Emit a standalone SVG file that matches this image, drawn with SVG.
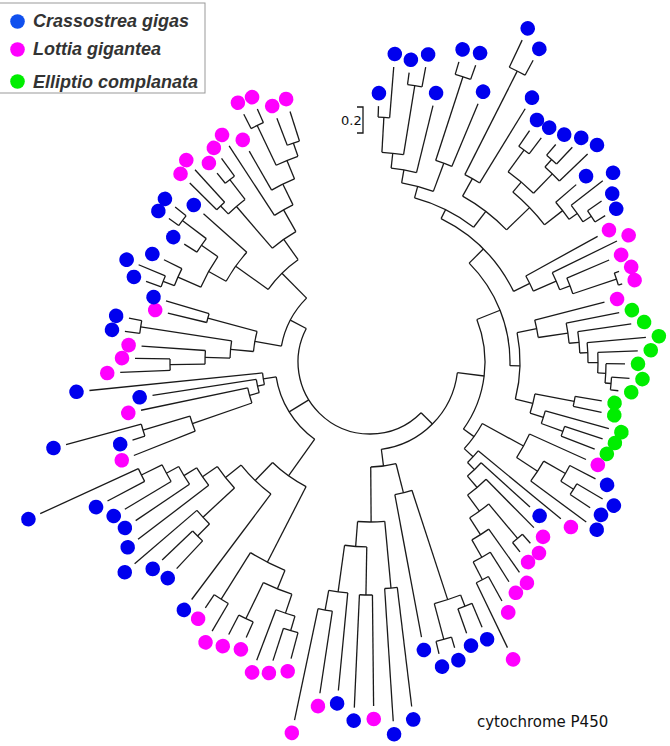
<svg xmlns="http://www.w3.org/2000/svg" width="670" height="746" viewBox="0 0 670 746">
<style>
.c path,.c circle{fill:none;stroke:#1a1a1a;stroke-width:1.3}
.b{fill:#0000ee}.m{fill:#ff00ff}.g{fill:#00ee00}
.t{font-family:"Liberation Sans",Arial,sans-serif;font-weight:bold;font-style:italic;font-size:18px;fill:#333}
.s{font-family:"DejaVu Sans","Liberation Sans",sans-serif;fill:#111}
</style>
<rect width="670" height="746" fill="#fff"/>
<g id="connectors" class="c" transform="translate(370 362)">
<circle r="72" pathLength="360" stroke-dasharray="162.9 999" transform="rotate(44.8)"/>
<path d="M72 0H88" transform="rotate(44.8)"/><circle r="88" pathLength="360" stroke-dasharray="75.6 999" transform="rotate(7)"/>
<path d="M88 0H115" transform="rotate(7)"/><circle r="115" pathLength="360" stroke-dasharray="57.35 999" transform="rotate(-21.7)"/>
<path d="M115 0H140" transform="rotate(-21.7)"/><circle r="140" pathLength="360" stroke-dasharray="46.41 999" transform="rotate(-44.91)"/>
<path d="M140 0H160" transform="rotate(-44.91)"/><circle r="160" pathLength="360" stroke-dasharray="37.44 999" transform="rotate(-63.63)"/>
<path d="M160 0H170" transform="rotate(-63.63)"/><circle r="170" pathLength="360" stroke-dasharray="22.37 999" transform="rotate(-74.81)"/>
<path d="M170 0H182" transform="rotate(-74.81)"/><circle r="182" pathLength="360" stroke-dasharray="10.36 999" transform="rotate(-79.99)"/>
<path d="M182 0H195" transform="rotate(-79.99)"/><circle r="195" pathLength="360" stroke-dasharray="7.58 999" transform="rotate(-83.78)"/>
<path d="M195 0H210" transform="rotate(-83.78)"/><circle r="210" pathLength="360" stroke-dasharray="5.95 999" transform="rotate(-86.75)"/>
<path d="M210 0H245" transform="rotate(-86.75)"/><circle r="245" pathLength="360" stroke-dasharray="2.7 999" transform="rotate(-88.1)"/>
<path d="M210 0H280" transform="rotate(-80.8)"/><circle r="280" pathLength="360" stroke-dasharray="3 999" transform="rotate(-82.3)"/>
<path d="M182 0H212" transform="rotate(-69.63)"/><circle r="212" pathLength="360" stroke-dasharray="4.65 999" transform="rotate(-71.95)"/>
<path d="M212 0H300" transform="rotate(-71.95)"/><circle r="300" pathLength="360" stroke-dasharray="3.1 999" transform="rotate(-73.5)"/>
<path d="M170 0H190" transform="rotate(-52.44)"/><circle r="190" pathLength="360" stroke-dasharray="16.77 999" transform="rotate(-60.83)"/>
<path d="M190 0H210" transform="rotate(-60.83)"/><circle r="210" pathLength="360" stroke-dasharray="4.65 999" transform="rotate(-63.15)"/>
<path d="M210 0H326" transform="rotate(-63.15)"/><circle r="326" pathLength="360" stroke-dasharray="3.1 999" transform="rotate(-64.7)"/>
<path d="M190 0H222" transform="rotate(-44.06)"/><circle r="222" pathLength="360" stroke-dasharray="11.79 999" transform="rotate(-49.95)"/>
<path d="M222 0H235" transform="rotate(-49.95)"/><circle r="235" pathLength="360" stroke-dasharray="8.1 999" transform="rotate(-54)"/>
<path d="M235 0H262" transform="rotate(-54)"/><circle r="262" pathLength="360" stroke-dasharray="2.8 999" transform="rotate(-55.4)"/>
<path d="M235 0H262" transform="rotate(-45.9)"/><circle r="262" pathLength="360" stroke-dasharray="4.4 999" transform="rotate(-48.1)"/>
<path d="M262 0H272" transform="rotate(-48.1)"/><circle r="272" pathLength="360" stroke-dasharray="2.8 999" transform="rotate(-49.5)"/>
<path d="M222 0H245" transform="rotate(-38.16)"/><circle r="245" pathLength="360" stroke-dasharray="5.07 999" transform="rotate(-40.7)"/>
<path d="M245 0H255" transform="rotate(-35.63)"/><circle r="255" pathLength="360" stroke-dasharray="4.55 999" transform="rotate(-37.9)"/>
<path d="M255 0H265" transform="rotate(-33.35)"/><circle r="265" pathLength="360" stroke-dasharray="2.9 999" transform="rotate(-34.8)"/>
<path d="M160 0H178" transform="rotate(-26.19)"/><circle r="178" pathLength="360" stroke-dasharray="5.42 999" transform="rotate(-28.9)"/>
<path d="M178 0H203" transform="rotate(-23.48)"/><circle r="203" pathLength="360" stroke-dasharray="5.25 999" transform="rotate(-26.1)"/>
<path d="M203 0H214" transform="rotate(-20.85)"/><circle r="214" pathLength="360" stroke-dasharray="4.5 999" transform="rotate(-23.1)"/>
<path d="M214 0H260" transform="rotate(-18.6)"/><circle r="260" pathLength="360" stroke-dasharray="2.8 999" transform="rotate(-20)"/>
<path d="M140 0H150" transform="rotate(1.5)"/><circle r="150" pathLength="360" stroke-dasharray="25.59 999" transform="rotate(-11.3)"/>
<path d="M150 0H170" transform="rotate(-11.3)"/><circle r="170" pathLength="360" stroke-dasharray="6.01 999" transform="rotate(-14.3)"/>
<path d="M170 0H200" transform="rotate(-8.29)"/><circle r="200" pathLength="360" stroke-dasharray="5.82 999" transform="rotate(-11.2)"/>
<path d="M200 0H210" transform="rotate(-5.38)"/><circle r="210" pathLength="360" stroke-dasharray="5.84 999" transform="rotate(-8.3)"/>
<path d="M210 0H218" transform="rotate(-2.46)"/><circle r="218" pathLength="360" stroke-dasharray="5.275 999" transform="rotate(-5.1)"/>
<path d="M218 0H228" transform="rotate(0.175)"/><circle r="228" pathLength="360" stroke-dasharray="5.15 999" transform="rotate(-2.4)"/>
<path d="M228 0H236" transform="rotate(2.75)"/><circle r="236" pathLength="360" stroke-dasharray="4.7 999" transform="rotate(0.4)"/>
<path d="M236 0H242" transform="rotate(5.1)"/><circle r="242" pathLength="360" stroke-dasharray="3 999" transform="rotate(3.6)"/>
<path d="M150 0H168" transform="rotate(14.29)"/><circle r="168" pathLength="360" stroke-dasharray="6.78 999" transform="rotate(10.9)"/>
<path d="M168 0H208" transform="rotate(10.9)"/><circle r="208" pathLength="360" stroke-dasharray="2.8 999" transform="rotate(9.5)"/>
<path d="M168 0H182" transform="rotate(17.68)"/><circle r="182" pathLength="360" stroke-dasharray="4.15 999" transform="rotate(15.6)"/>
<path d="M182 0H205" transform="rotate(19.75)"/><circle r="205" pathLength="360" stroke-dasharray="2.9 999" transform="rotate(18.3)"/>
<path d="M115 0H128" transform="rotate(35.65)"/><circle r="128" pathLength="360" stroke-dasharray="13.9 999" transform="rotate(28.7)"/>
<path d="M128 0H175" transform="rotate(28.7)"/><circle r="175" pathLength="360" stroke-dasharray="8.8 999" transform="rotate(24.3)"/>
<path d="M175 0H200" transform="rotate(33.1)"/><circle r="200" pathLength="360" stroke-dasharray="6.8 999" transform="rotate(29.7)"/>
<path d="M200 0H225" transform="rotate(29.7)"/><circle r="225" pathLength="360" stroke-dasharray="4.6 999" transform="rotate(27.4)"/>
<path d="M225 0H240" transform="rotate(32)"/><circle r="240" pathLength="360" stroke-dasharray="3 999" transform="rotate(30.5)"/>
<path d="M128 0H140" transform="rotate(42.6)"/><circle r="140" pathLength="360" stroke-dasharray="6.45 999" transform="rotate(39.4)"/>
<path d="M140 0H150" transform="rotate(45.85)"/><circle r="150" pathLength="360" stroke-dasharray="7.3 999" transform="rotate(42.2)"/>
<path d="M150 0H165" transform="rotate(49.5)"/><circle r="165" pathLength="360" stroke-dasharray="8.45 999" transform="rotate(45.3)"/>
<path d="M165 0H185" transform="rotate(53.75)"/><circle r="185" pathLength="360" stroke-dasharray="7.3 999" transform="rotate(50.1)"/>
<path d="M185 0H230" transform="rotate(50.1)"/><circle r="230" pathLength="360" stroke-dasharray="3.2 999" transform="rotate(48.5)"/>
<path d="M185 0H205" transform="rotate(57.4)"/><circle r="205" pathLength="360" stroke-dasharray="5.6 999" transform="rotate(54.6)"/>
<path d="M205 0H225" transform="rotate(60.2)"/><circle r="225" pathLength="360" stroke-dasharray="5 999" transform="rotate(57.7)"/>
<path d="M225 0H245" transform="rotate(62.7)"/><circle r="245" pathLength="360" stroke-dasharray="3.2 999" transform="rotate(61.1)"/>
<path d="M88 0H105" transform="rotate(82.6)"/><circle r="105" pathLength="360" stroke-dasharray="13.95 999" transform="rotate(75.65)"/>
<path d="M105 0H135" transform="rotate(75.65)"/><circle r="135" pathLength="360" stroke-dasharray="7.5 999" transform="rotate(71.9)"/>
<path d="M135 0H250" transform="rotate(71.9)"/><circle r="250" pathLength="360" stroke-dasharray="6.35 999" transform="rotate(68.75)"/>
<path d="M250 0H262" transform="rotate(68.75)"/><circle r="262" pathLength="360" stroke-dasharray="3.3 999" transform="rotate(67.1)"/>
<path d="M250 0H287" transform="rotate(75.1)"/><circle r="287" pathLength="360" stroke-dasharray="3.2 999" transform="rotate(73.5)"/>
<path d="M105 0H160" transform="rotate(89.6)"/><circle r="160" pathLength="360" stroke-dasharray="9.75 999" transform="rotate(84.7)"/>
<path d="M160 0H227" transform="rotate(84.7)"/><circle r="227" pathLength="360" stroke-dasharray="3.2 999" transform="rotate(83.1)"/>
<path d="M160 0H185" transform="rotate(94.45)"/><circle r="185" pathLength="360" stroke-dasharray="6.9 999" transform="rotate(91)"/>
<path d="M185 0H233" transform="rotate(91)"/><circle r="233" pathLength="360" stroke-dasharray="3.2 999" transform="rotate(89.4)"/>
<path d="M185 0H232" transform="rotate(97.9)"/><circle r="232" pathLength="360" stroke-dasharray="4.75 999" transform="rotate(95.5)"/>
<path d="M232 0H252" transform="rotate(100.25)"/><circle r="252" pathLength="360" stroke-dasharray="3.3 999" transform="rotate(98.6)"/>
<path d="M72 0H95" transform="rotate(148.3)"/><circle r="95" pathLength="360" stroke-dasharray="45.45 999" transform="rotate(125.6)"/>
<path d="M95 0H140" transform="rotate(125.6)"/><circle r="140" pathLength="360" stroke-dasharray="16.95 999" transform="rotate(117.15)"/>
<path d="M140 0H225" transform="rotate(117.15)"/><circle r="225" pathLength="360" stroke-dasharray="9.9 999" transform="rotate(112.2)"/>
<path d="M225 0H245" transform="rotate(112.2)"/><circle r="245" pathLength="360" stroke-dasharray="7.2 999" transform="rotate(108.6)"/>
<path d="M245 0H265" transform="rotate(108.6)"/><circle r="265" pathLength="360" stroke-dasharray="4.35 999" transform="rotate(106.45)"/>
<path d="M265 0H280" transform="rotate(106.45)"/><circle r="280" pathLength="360" stroke-dasharray="3.1 999" transform="rotate(104.9)"/>
<path d="M245 0H285" transform="rotate(115.8)"/><circle r="285" pathLength="360" stroke-dasharray="3.2 999" transform="rotate(114.2)"/>
<path d="M225 0H280" transform="rotate(122.1)"/><circle r="280" pathLength="360" stroke-dasharray="3.4 999" transform="rotate(120.4)"/>
<path d="M140 0H165" transform="rotate(134.1)"/><circle r="165" pathLength="360" stroke-dasharray="14.45 999" transform="rotate(126.9)"/>
<path d="M165 0H185" transform="rotate(141.35)"/><circle r="185" pathLength="360" stroke-dasharray="8.5 999" transform="rotate(137.1)"/>
<path d="M185 0H228" transform="rotate(137.1)"/><circle r="228" pathLength="360" stroke-dasharray="4.65 999" transform="rotate(134.75)"/>
<path d="M228 0H245" transform="rotate(134.75)"/><circle r="245" pathLength="360" stroke-dasharray="3.3 999" transform="rotate(133.1)"/>
<path d="M185 0H203" transform="rotate(145.6)"/><circle r="203" pathLength="360" stroke-dasharray="6 999" transform="rotate(142.6)"/>
<path d="M203 0H218" transform="rotate(148.6)"/><circle r="218" pathLength="360" stroke-dasharray="5.45 999" transform="rotate(145.9)"/>
<path d="M218 0H232" transform="rotate(151.35)"/><circle r="232" pathLength="360" stroke-dasharray="4.7 999" transform="rotate(149)"/>
<path d="M232 0H255" transform="rotate(153.7)"/><circle r="255" pathLength="360" stroke-dasharray="3.2 999" transform="rotate(152.1)"/>
<path d="M95 0H108" transform="rotate(171.05)"/><circle r="108" pathLength="360" stroke-dasharray="6.3 999" transform="rotate(167.9)"/>
<path d="M108 0H115" transform="rotate(167.9)"/><circle r="115" pathLength="360" stroke-dasharray="6.8 999" transform="rotate(164.5)"/>
<path d="M115 0H125" transform="rotate(164.5)"/><circle r="125" pathLength="360" stroke-dasharray="7.25 999" transform="rotate(160.85)"/>
<path d="M125 0H188" transform="rotate(160.85)"/><circle r="188" pathLength="360" stroke-dasharray="4.9 999" transform="rotate(158.4)"/>
<path d="M188 0H237" transform="rotate(163.3)"/><circle r="237" pathLength="360" stroke-dasharray="3 999" transform="rotate(161.8)"/>
<path d="M72 0H90" transform="rotate(207.7)"/><circle r="90" pathLength="360" stroke-dasharray="35.05 999" transform="rotate(190.15)"/>
<path d="M90 0H117" transform="rotate(190.15)"/><circle r="117" pathLength="360" stroke-dasharray="10 999" transform="rotate(185.15)"/>
<path d="M117 0H140" transform="rotate(185.15)"/><circle r="140" pathLength="360" stroke-dasharray="7.1 999" transform="rotate(181.6)"/>
<path d="M140 0H165" transform="rotate(181.6)"/><circle r="165" pathLength="360" stroke-dasharray="4.75 999" transform="rotate(179.25)"/>
<path d="M165 0H200" transform="rotate(179.25)"/><circle r="200" pathLength="360" stroke-dasharray="3.3 999" transform="rotate(177.6)"/>
<path d="M140 0H232" transform="rotate(188.7)"/><circle r="232" pathLength="360" stroke-dasharray="3.2 999" transform="rotate(187.1)"/>
<path d="M117 0H168" transform="rotate(195.15)"/><circle r="168" pathLength="360" stroke-dasharray="3.1 999" transform="rotate(193.6)"/>
<path d="M90 0H125" transform="rotate(225.2)"/><circle r="125" pathLength="360" stroke-dasharray="19.4 999" transform="rotate(215.5)"/>
<path d="M125 0H165" transform="rotate(215.5)"/><circle r="165" pathLength="360" stroke-dasharray="12.4 999" transform="rotate(209.3)"/>
<path d="M165 0H185" transform="rotate(209.3)"/><circle r="185" pathLength="360" stroke-dasharray="10.85 999" transform="rotate(203.85)"/>
<path d="M185 0H210" transform="rotate(203.85)"/><circle r="210" pathLength="360" stroke-dasharray="5.1 999" transform="rotate(201.3)"/>
<path d="M210 0H222" transform="rotate(201.3)"/><circle r="222" pathLength="360" stroke-dasharray="3 999" transform="rotate(199.8)"/>
<path d="M185 0H205" transform="rotate(214.7)"/><circle r="205" pathLength="360" stroke-dasharray="4.6 999" transform="rotate(212.4)"/>
<path d="M205 0H235" transform="rotate(217)"/><circle r="235" pathLength="360" stroke-dasharray="3 999" transform="rotate(215.5)"/>
<path d="M125 0H150" transform="rotate(234.9)"/><circle r="150" pathLength="360" stroke-dasharray="11.05 999" transform="rotate(229.35)"/>
<path d="M150 0H205" transform="rotate(229.35)"/><circle r="205" pathLength="360" stroke-dasharray="6.2 999" transform="rotate(226.25)"/>
<path d="M205 0H216" transform="rotate(226.25)"/><circle r="216" pathLength="360" stroke-dasharray="2.9 999" transform="rotate(224.8)"/>
<path d="M205 0H230" transform="rotate(232.45)"/><circle r="230" pathLength="360" stroke-dasharray="2.9 999" transform="rotate(231)"/>
<path d="M150 0H175" transform="rotate(240.4)"/><circle r="175" pathLength="360" stroke-dasharray="7 999" transform="rotate(236.9)"/>
<path d="M175 0H198" transform="rotate(243.9)"/><circle r="198" pathLength="360" stroke-dasharray="7.4 999" transform="rotate(240.2)"/>
<path d="M198 0H218" transform="rotate(247.6)"/><circle r="218" pathLength="360" stroke-dasharray="6.2 999" transform="rotate(244.5)"/>
<path d="M218 0H262" transform="rotate(244.5)"/><circle r="262" pathLength="360" stroke-dasharray="3 999" transform="rotate(243)"/>
<path d="M218 0H232" transform="rotate(250.7)"/><circle r="232" pathLength="360" stroke-dasharray="3.2 999" transform="rotate(249.1)"/>
<path d="M245 0H256" transform="rotate(-88.1)"/>
<path d="M245 0H296" transform="rotate(-85.4)"/>
<path d="M280 0H292" transform="rotate(-82.3)"/>
<path d="M280 0H300" transform="rotate(-79.3)"/>
<path d="M195 0H264" transform="rotate(-76.2)"/>
<path d="M300 0H313" transform="rotate(-73.5)"/>
<path d="M300 0H315" transform="rotate(-70.4)"/>
<path d="M212 0H280" transform="rotate(-67.3)"/>
<path d="M326 0H356" transform="rotate(-64.7)"/>
<path d="M326 0H343" transform="rotate(-61.6)"/>
<path d="M210 0H297" transform="rotate(-58.5)"/>
<path d="M262 0H281" transform="rotate(-55.4)"/>
<path d="M262 0H282" transform="rotate(-52.6)"/>
<path d="M272 0H286" transform="rotate(-49.5)"/>
<path d="M272 0H295" transform="rotate(-46.7)"/>
<path d="M262 0H301" transform="rotate(-43.7)"/>
<path d="M245 0H272" transform="rotate(-40.7)"/>
<path d="M255 0H295" transform="rotate(-37.9)"/>
<path d="M265 0H282" transform="rotate(-34.8)"/>
<path d="M265 0H277" transform="rotate(-31.9)"/>
<path d="M178 0H260" transform="rotate(-28.9)"/>
<path d="M203 0H275" transform="rotate(-26.1)"/>
<path d="M214 0H260" transform="rotate(-23.1)"/>
<path d="M260 0H265" transform="rotate(-20)"/>
<path d="M260 0H264" transform="rotate(-17.2)"/>
<path d="M170 0H242" transform="rotate(-14.3)"/>
<path d="M200 0H254" transform="rotate(-11.2)"/>
<path d="M210 0H264" transform="rotate(-8.3)"/>
<path d="M218 0H277" transform="rotate(-5.1)"/>
<path d="M228 0H268" transform="rotate(-2.4)"/>
<path d="M236 0H255" transform="rotate(0.4)"/>
<path d="M242 0H260" transform="rotate(3.6)"/>
<path d="M242 0H250" transform="rotate(6.6)"/>
<path d="M208 0H235" transform="rotate(9.5)"/>
<path d="M208 0H237" transform="rotate(12.3)"/>
<path d="M182 0H248" transform="rotate(15.6)"/>
<path d="M205 0H245" transform="rotate(18.3)"/>
<path d="M205 0H241" transform="rotate(21.2)"/>
<path d="M175 0H237" transform="rotate(24.3)"/>
<path d="M225 0H254" transform="rotate(27.4)"/>
<path d="M240 0H270" transform="rotate(30.5)"/>
<path d="M240 0H264" transform="rotate(33.5)"/>
<path d="M200 0H269" transform="rotate(36.5)"/>
<path d="M140 0H247" transform="rotate(39.4)"/>
<path d="M150 0H216" transform="rotate(42.2)"/>
<path d="M165 0H233" transform="rotate(45.3)"/>
<path d="M230 0H242" transform="rotate(48.5)"/>
<path d="M230 0H242" transform="rotate(51.7)"/>
<path d="M205 0H258" transform="rotate(54.6)"/>
<path d="M225 0H260" transform="rotate(57.7)"/>
<path d="M245 0H273" transform="rotate(61.1)"/>
<path d="M245 0H317" transform="rotate(64.3)"/>
<path d="M262 0H288" transform="rotate(67.1)"/>
<path d="M262 0H288" transform="rotate(70.4)"/>
<path d="M287 0H298" transform="rotate(73.5)"/>
<path d="M287 0H300" transform="rotate(76.7)"/>
<path d="M135 0H280" transform="rotate(79.4)"/>
<path d="M227 0H347" transform="rotate(83.1)"/>
<path d="M227 0H360" transform="rotate(86.3)"/>
<path d="M233 0H344" transform="rotate(89.4)"/>
<path d="M233 0H346" transform="rotate(92.6)"/>
<path d="M232 0H330" transform="rotate(95.5)"/>
<path d="M252 0H335" transform="rotate(98.6)"/>
<path d="M252 0H366" transform="rotate(101.9)"/>
<path d="M280 0H307" transform="rotate(104.9)"/>
<path d="M280 0H314" transform="rotate(108)"/>
<path d="M265 0H319" transform="rotate(110.8)"/>
<path d="M285 0H302" transform="rotate(114.2)"/>
<path d="M285 0H307" transform="rotate(117.4)"/>
<path d="M280 0H312" transform="rotate(120.4)"/>
<path d="M280 0H296" transform="rotate(123.8)"/>
<path d="M165 0H297" transform="rotate(126.9)"/>
<path d="M245 0H283" transform="rotate(133.1)"/>
<path d="M245 0H287" transform="rotate(136.4)"/>
<path d="M228 0H310" transform="rotate(139.4)"/>
<path d="M203 0H292" transform="rotate(142.6)"/>
<path d="M218 0H283" transform="rotate(145.9)"/>
<path d="M232 0H286" transform="rotate(149)"/>
<path d="M255 0H297" transform="rotate(152.1)"/>
<path d="M255 0H363" transform="rotate(155.3)"/>
<path d="M188 0H254" transform="rotate(158.4)"/>
<path d="M237 0H250" transform="rotate(161.8)"/>
<path d="M237 0H315" transform="rotate(164.8)"/>
<path d="M125 0H234" transform="rotate(168.1)"/>
<path d="M115 0H220" transform="rotate(171.3)"/>
<path d="M108 0H282" transform="rotate(174.2)"/>
<path d="M200 0H250" transform="rotate(177.6)"/>
<path d="M200 0H235" transform="rotate(180.9)"/>
<path d="M165 0H229" transform="rotate(184)"/>
<path d="M232 0H247" transform="rotate(187.1)"/>
<path d="M232 0H245" transform="rotate(190.3)"/>
<path d="M168 0H208" transform="rotate(193.6)"/>
<path d="M168 0H213" transform="rotate(196.7)"/>
<path d="M222 0H238" transform="rotate(199.8)"/>
<path d="M222 0H251" transform="rotate(202.8)"/>
<path d="M210 0H230" transform="rotate(206.4)"/>
<path d="M205 0H220" transform="rotate(212.4)"/>
<path d="M235 0H247" transform="rotate(215.5)"/>
<path d="M235 0H249" transform="rotate(218.5)"/>
<path d="M165 0H223" transform="rotate(221.7)"/>
<path d="M216 0H254" transform="rotate(224.8)"/>
<path d="M216 0H260" transform="rotate(227.7)"/>
<path d="M230 0H243" transform="rotate(231)"/>
<path d="M230 0H252" transform="rotate(233.9)"/>
<path d="M175 0H258" transform="rotate(236.9)"/>
<path d="M198 0H243" transform="rotate(240.2)"/>
<path d="M262 0H278" transform="rotate(243)"/>
<path d="M262 0H277" transform="rotate(246)"/>
<path d="M232 0H261" transform="rotate(249.1)"/>
<path d="M232 0H263" transform="rotate(252.3)"/>
</g>
<g id="leaves" transform="translate(370 362)">
<g id="leaf1" transform="rotate(-88.1)"><circle class="b" cx="269" r="7.3"/></g>
<g id="leaf2" transform="rotate(-85.4)"><circle class="b" cx="309" r="7.3"/></g>
<g id="leaf3" transform="rotate(-82.3)"><circle class="b" cx="305" r="7.3"/></g>
<g id="leaf4" transform="rotate(-79.3)"><circle class="b" cx="313" r="7.3"/></g>
<g id="leaf5" transform="rotate(-76.2)"><circle class="b" cx="277" r="7.3"/></g>
<g id="leaf6" transform="rotate(-73.5)"><circle class="b" cx="326" r="7.3"/></g>
<g id="leaf7" transform="rotate(-70.4)"><circle class="b" cx="328" r="7.3"/></g>
<g id="leaf8" transform="rotate(-67.3)"><circle class="b" cx="293" r="7.3"/></g>
<g id="leaf9" transform="rotate(-64.7)"><circle class="b" cx="369" r="7.3"/></g>
<g id="leaf10" transform="rotate(-61.6)"><circle class="b" cx="356" r="7.3"/></g>
<g id="leaf11" transform="rotate(-58.5)"><circle class="b" cx="310" r="7.3"/></g>
<g id="leaf12" transform="rotate(-55.4)"><circle class="b" cx="294" r="7.3"/></g>
<g id="leaf13" transform="rotate(-52.6)"><circle class="b" cx="295" r="7.3"/></g>
<g id="leaf14" transform="rotate(-49.5)"><circle class="b" cx="299" r="7.3"/></g>
<g id="leaf15" transform="rotate(-46.7)"><circle class="b" cx="308" r="7.3"/></g>
<g id="leaf16" transform="rotate(-43.7)"><circle class="b" cx="314" r="7.3"/></g>
<g id="leaf17" transform="rotate(-40.7)"><circle class="b" cx="285" r="7.3"/></g>
<g id="leaf18" transform="rotate(-37.9)"><circle class="b" cx="308" r="7.3"/></g>
<g id="leaf19" transform="rotate(-34.8)"><circle class="b" cx="295" r="7.3"/></g>
<g id="leaf20" transform="rotate(-31.9)"><circle class="b" cx="290" r="7.3"/></g>
<g id="leaf21" transform="rotate(-28.9)"><circle class="m" cx="273" r="7.3"/></g>
<g id="leaf22" transform="rotate(-26.1)"><circle class="m" cx="288" r="7.3"/></g>
<g id="leaf23" transform="rotate(-23.1)"><circle class="m" cx="273" r="7.3"/></g>
<g id="leaf24" transform="rotate(-20)"><circle class="m" cx="278" r="7.3"/></g>
<g id="leaf25" transform="rotate(-17.2)"><circle class="m" cx="277" r="7.3"/></g>
<g id="leaf26" transform="rotate(-14.3)"><circle class="m" cx="255" r="7.3"/></g>
<g id="leaf27" transform="rotate(-11.2)"><circle class="g" cx="267" r="7.3"/></g>
<g id="leaf28" transform="rotate(-8.3)"><circle class="g" cx="277" r="7.3"/></g>
<g id="leaf29" transform="rotate(-5.1)"><circle class="g" cx="290" r="7.3"/></g>
<g id="leaf30" transform="rotate(-2.4)"><circle class="g" cx="281" r="7.3"/></g>
<g id="leaf31" transform="rotate(0.4)"><circle class="g" cx="268" r="7.3"/></g>
<g id="leaf32" transform="rotate(3.6)"><circle class="g" cx="273" r="7.3"/></g>
<g id="leaf33" transform="rotate(6.6)"><circle class="g" cx="263" r="7.3"/></g>
<g id="leaf34" transform="rotate(9.5)"><circle class="g" cx="248" r="7.3"/></g>
<g id="leaf35" transform="rotate(12.3)"><circle class="g" cx="250" r="7.3"/></g>
<g id="leaf36" transform="rotate(15.6)"><circle class="g" cx="261" r="7.3"/></g>
<g id="leaf37" transform="rotate(18.3)"><circle class="g" cx="258" r="7.3"/></g>
<g id="leaf38" transform="rotate(21.2)"><circle class="g" cx="254" r="7.3"/></g>
<g id="leaf39" transform="rotate(24.3)"><circle class="m" cx="250" r="7.3"/></g>
<g id="leaf40" transform="rotate(27.4)"><circle class="b" cx="267" r="7.3"/></g>
<g id="leaf41" transform="rotate(30.5)"><circle class="b" cx="283" r="7.3"/></g>
<g id="leaf42" transform="rotate(33.5)"><circle class="b" cx="277" r="7.3"/></g>
<g id="leaf43" transform="rotate(36.5)"><circle class="b" cx="282" r="7.3"/></g>
<g id="leaf44" transform="rotate(39.4)"><circle class="m" cx="260" r="7.3"/></g>
<g id="leaf45" transform="rotate(42.2)"><circle class="b" cx="229" r="7.3"/></g>
<g id="leaf46" transform="rotate(45.3)"><circle class="m" cx="246" r="7.3"/></g>
<g id="leaf47" transform="rotate(48.5)"><circle class="m" cx="255" r="7.3"/></g>
<g id="leaf48" transform="rotate(51.7)"><circle class="m" cx="255" r="7.3"/></g>
<g id="leaf49" transform="rotate(54.6)"><circle class="m" cx="271" r="7.3"/></g>
<g id="leaf50" transform="rotate(57.7)"><circle class="m" cx="273" r="7.3"/></g>
<g id="leaf51" transform="rotate(61.1)"><circle class="m" cx="286" r="7.3"/></g>
<g id="leaf52" transform="rotate(64.3)"><circle class="m" cx="330" r="7.3"/></g>
<g id="leaf53" transform="rotate(67.1)"><circle class="b" cx="301" r="7.3"/></g>
<g id="leaf54" transform="rotate(70.4)"><circle class="b" cx="301" r="7.3"/></g>
<g id="leaf55" transform="rotate(73.5)"><circle class="b" cx="311" r="7.3"/></g>
<g id="leaf56" transform="rotate(76.7)"><circle class="b" cx="313" r="7.3"/></g>
<g id="leaf57" transform="rotate(79.4)"><circle class="b" cx="293" r="7.3"/></g>
<g id="leaf58" transform="rotate(83.1)"><circle class="b" cx="360" r="7.3"/></g>
<g id="leaf59" transform="rotate(86.3)"><circle class="b" cx="373" r="7.3"/></g>
<g id="leaf60" transform="rotate(89.4)"><circle class="m" cx="357" r="7.3"/></g>
<g id="leaf61" transform="rotate(92.6)"><circle class="b" cx="359" r="7.3"/></g>
<g id="leaf62" transform="rotate(95.5)"><circle class="b" cx="343" r="7.3"/></g>
<g id="leaf63" transform="rotate(98.6)"><circle class="m" cx="348" r="7.3"/></g>
<g id="leaf64" transform="rotate(101.9)"><circle class="m" cx="379" r="7.3"/></g>
<g id="leaf65" transform="rotate(104.9)"><circle class="m" cx="320" r="7.3"/></g>
<g id="leaf66" transform="rotate(108)"><circle class="m" cx="327" r="7.3"/></g>
<g id="leaf67" transform="rotate(110.8)"><circle class="m" cx="332" r="7.3"/></g>
<g id="leaf68" transform="rotate(114.2)"><circle class="m" cx="315" r="7.3"/></g>
<g id="leaf69" transform="rotate(117.4)"><circle class="m" cx="320" r="7.3"/></g>
<g id="leaf70" transform="rotate(120.4)"><circle class="m" cx="325" r="7.3"/></g>
<g id="leaf71" transform="rotate(123.8)"><circle class="m" cx="309" r="7.3"/></g>
<g id="leaf72" transform="rotate(126.9)"><circle class="b" cx="310" r="7.3"/></g>
<g id="leaf73" transform="rotate(133.1)"><circle class="b" cx="296" r="7.3"/></g>
<g id="leaf74" transform="rotate(136.4)"><circle class="b" cx="300" r="7.3"/></g>
<g id="leaf75" transform="rotate(139.4)"><circle class="b" cx="323" r="7.3"/></g>
<g id="leaf76" transform="rotate(142.6)"><circle class="b" cx="305" r="7.3"/></g>
<g id="leaf77" transform="rotate(145.9)"><circle class="b" cx="296" r="7.3"/></g>
<g id="leaf78" transform="rotate(149)"><circle class="b" cx="299" r="7.3"/></g>
<g id="leaf79" transform="rotate(152.1)"><circle class="b" cx="310" r="7.3"/></g>
<g id="leaf80" transform="rotate(155.3)"><circle class="b" cx="376" r="7.3"/></g>
<g id="leaf81" transform="rotate(158.4)"><circle class="m" cx="267" r="7.3"/></g>
<g id="leaf82" transform="rotate(161.8)"><circle class="b" cx="263" r="7.3"/></g>
<g id="leaf83" transform="rotate(164.8)"><circle class="b" cx="328" r="7.3"/></g>
<g id="leaf84" transform="rotate(168.1)"><circle class="m" cx="247" r="7.3"/></g>
<g id="leaf85" transform="rotate(171.3)"><circle class="b" cx="233" r="7.3"/></g>
<g id="leaf86" transform="rotate(174.2)"><circle class="b" cx="295" r="7.3"/></g>
<g id="leaf87" transform="rotate(177.6)"><circle class="m" cx="263" r="7.3"/></g>
<g id="leaf88" transform="rotate(180.9)"><circle class="m" cx="248" r="7.3"/></g>
<g id="leaf89" transform="rotate(184)"><circle class="m" cx="242" r="7.3"/></g>
<g id="leaf90" transform="rotate(187.1)"><circle class="b" cx="260" r="7.3"/></g>
<g id="leaf91" transform="rotate(190.3)"><circle class="b" cx="258" r="7.3"/></g>
<g id="leaf92" transform="rotate(193.6)"><circle class="m" cx="221" r="7.3"/></g>
<g id="leaf93" transform="rotate(196.7)"><circle class="b" cx="226" r="7.3"/></g>
<g id="leaf94" transform="rotate(199.8)"><circle class="b" cx="251" r="7.3"/></g>
<g id="leaf95" transform="rotate(202.8)"><circle class="b" cx="264" r="7.3"/></g>
<g id="leaf96" transform="rotate(206.4)"><circle class="b" cx="243" r="7.3"/></g>
<g id="leaf97" transform="rotate(212.4)"><circle class="b" cx="233" r="7.3"/></g>
<g id="leaf98" transform="rotate(215.5)"><circle class="b" cx="260" r="7.3"/></g>
<g id="leaf99" transform="rotate(218.5)"><circle class="b" cx="262" r="7.3"/></g>
<g id="leaf100" transform="rotate(221.7)"><circle class="b" cx="236" r="7.3"/></g>
<g id="leaf101" transform="rotate(224.8)"><circle class="m" cx="267" r="7.3"/></g>
<g id="leaf102" transform="rotate(227.7)"><circle class="m" cx="273" r="7.3"/></g>
<g id="leaf103" transform="rotate(231)"><circle class="m" cx="256" r="7.3"/></g>
<g id="leaf104" transform="rotate(233.9)"><circle class="m" cx="265" r="7.3"/></g>
<g id="leaf105" transform="rotate(236.9)"><circle class="m" cx="271" r="7.3"/></g>
<g id="leaf106" transform="rotate(240.2)"><circle class="m" cx="256" r="7.3"/></g>
<g id="leaf107" transform="rotate(243)"><circle class="m" cx="291" r="7.3"/></g>
<g id="leaf108" transform="rotate(246)"><circle class="m" cx="290" r="7.3"/></g>
<g id="leaf109" transform="rotate(249.1)"><circle class="m" cx="274" r="7.3"/></g>
<g id="leaf110" transform="rotate(252.3)"><circle class="m" cx="276" r="7.3"/></g>
</g>
<g id="legend">
<rect x="-1" y="3" width="206" height="90" fill="#fff" stroke="#999" stroke-width="1"/>
<circle cx="17.5" cy="21.5" r="7.3" fill="#1050ee"/>
<circle cx="17.5" cy="49.5" r="7.3" fill="#ff00ff"/>
<circle cx="17.5" cy="81.5" r="7.3" fill="#00ee00"/>
<text class="t" x="33" y="27">Crassostrea gigas</text>
<text class="t" x="33" y="55">Lottia gigantea</text>
<text class="t" x="33" y="87.5">Elliptio complanata</text>
</g>
<g id="scale">
<path d="M357 107H363V133H357" fill="none" stroke="#1a1a1a" stroke-width="1.3"/>
<text class="s" x="341" y="125" font-size="13">0.2</text>
</g>
<text id="title" class="s" x="477" y="727" font-size="15">cytochrome P450</text>
</svg>
